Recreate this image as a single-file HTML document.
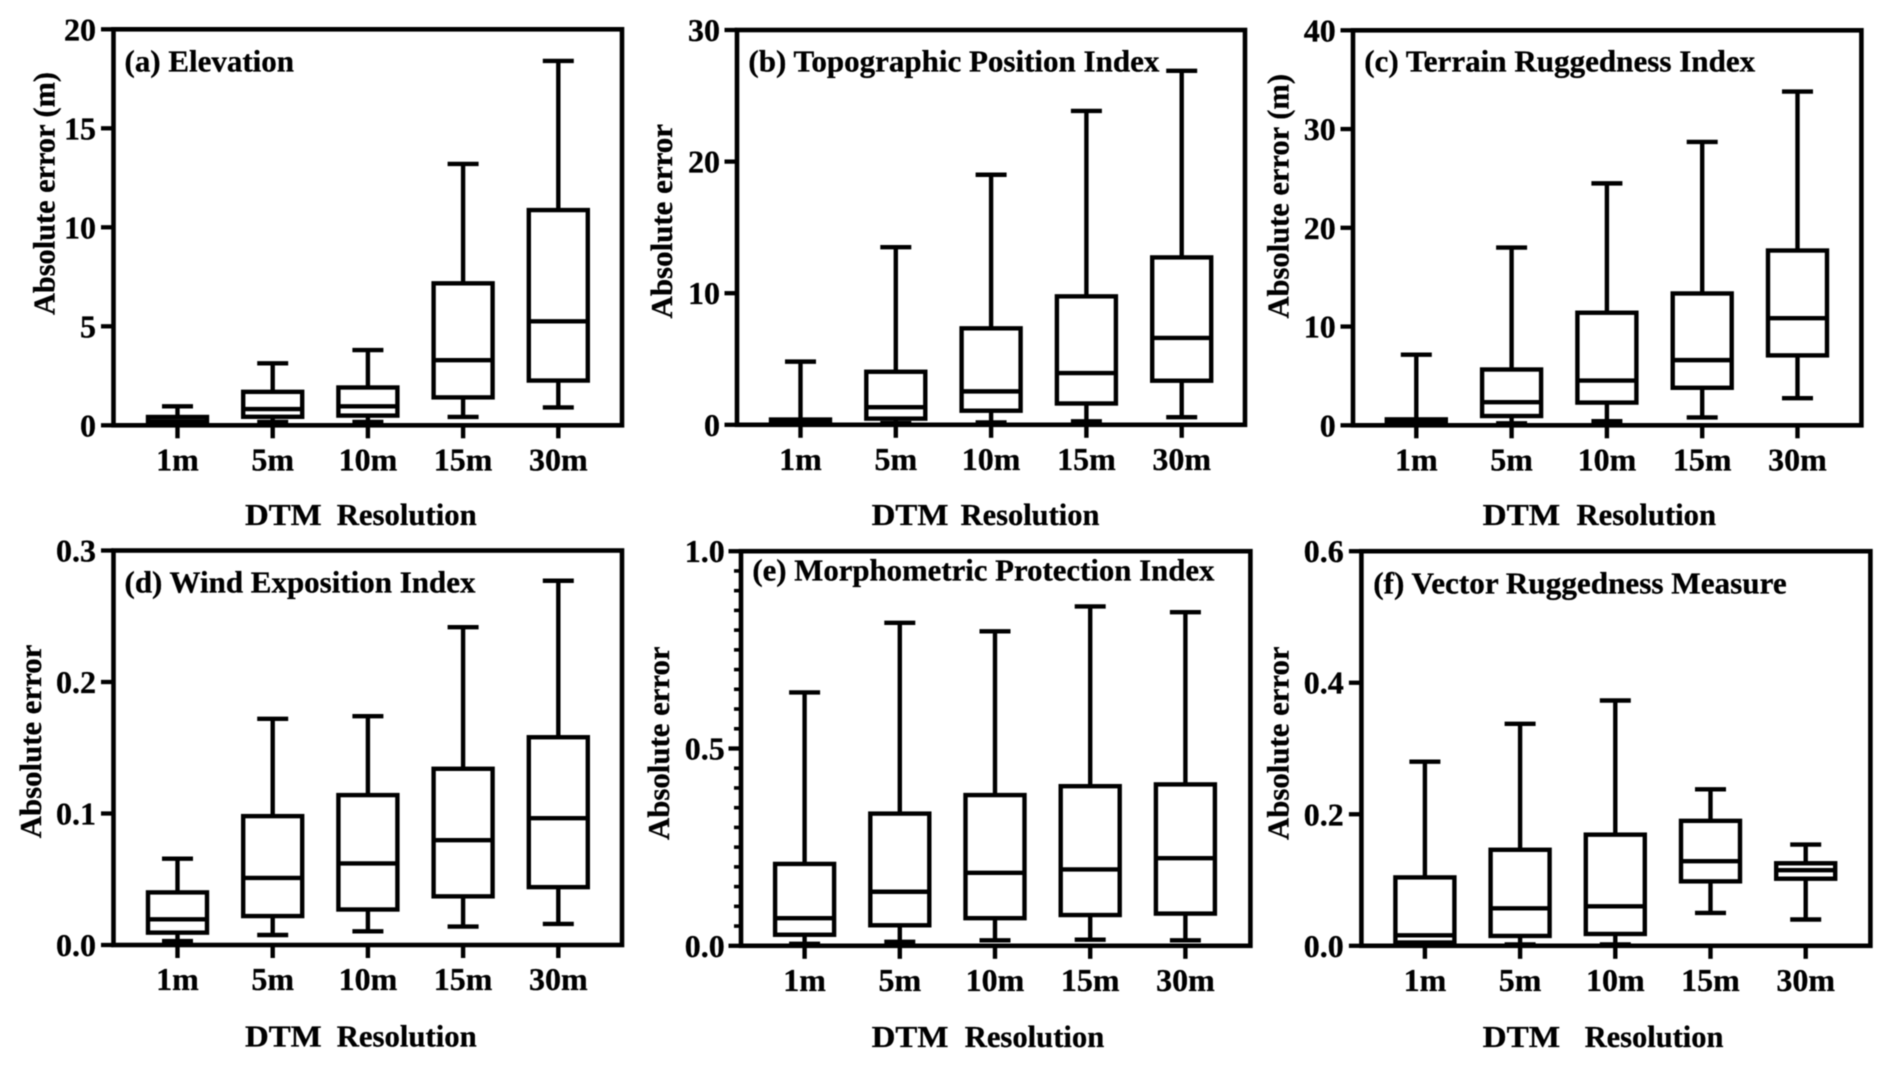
<!DOCTYPE html>
<html lang="en">
<head>
<meta charset="utf-8">
<title>Absolute error by DTM resolution</title>
<style>
html,body{margin:0;padding:0;background:#fff;width:1892px;height:1067px;overflow:hidden}
svg{display:block;filter:blur(0.4px)}
text{font-family:"Liberation Serif",serif;font-weight:bold;font-size:31px;fill:#000;stroke:#000;stroke-width:.3px}
</style>
</head>
<body>
<svg id="figure" xmlns="http://www.w3.org/2000/svg" width="1892" height="1067" viewBox="0 0 1892 1067">
  <rect width="1892" height="1067" fill="#fff"/>

  <g id="panel-a">
    <text x="124.5" y="71.3" textLength="169.5" lengthAdjust="spacingAndGlyphs">(a) Elevation</text>
    <text transform="translate(54.3,315) rotate(-90)" textLength="243" lengthAdjust="spacingAndGlyphs">Absolute error (m)</text>
    <text x="245" y="525" textLength="76.7" lengthAdjust="spacingAndGlyphs">DTM</text>
    <text x="336.7" y="525" textLength="140" lengthAdjust="spacingAndGlyphs">Resolution</text>
  </g>
  <g id="panel-b">
    <text x="748.4" y="71.6" textLength="411" lengthAdjust="spacingAndGlyphs">(b) Topographic Position Index</text>
    <text transform="translate(672,318.5) rotate(-90)" textLength="194.5" lengthAdjust="spacingAndGlyphs">Absolute error</text>
    <text x="871.6" y="525" textLength="76.8" lengthAdjust="spacingAndGlyphs">DTM</text>
    <text x="960.6" y="525" textLength="138.8" lengthAdjust="spacingAndGlyphs">Resolution</text>
  </g>
  <g id="panel-c">
    <text x="1364.2" y="71.6" textLength="391" lengthAdjust="spacingAndGlyphs">(c) Terrain Ruggedness Index</text>
    <text transform="translate(1288.7,318.5) rotate(-90)" textLength="244.5" lengthAdjust="spacingAndGlyphs">Absolute error (m)</text>
    <text x="1482.6" y="525" textLength="77.6" lengthAdjust="spacingAndGlyphs">DTM</text>
    <text x="1576.5" y="525" textLength="139.5" lengthAdjust="spacingAndGlyphs">Resolution</text>
  </g>
  <g id="panel-d">
    <text x="124.5" y="592.7" textLength="351" lengthAdjust="spacingAndGlyphs">(d) Wind Exposition Index</text>
    <text transform="translate(40.8,838.2) rotate(-90)" textLength="193.5" lengthAdjust="spacingAndGlyphs">Absolute error</text>
    <text x="245" y="1046.4" textLength="76.7" lengthAdjust="spacingAndGlyphs">DTM</text>
    <text x="336.7" y="1046.4" textLength="140" lengthAdjust="spacingAndGlyphs">Resolution</text>
  </g>
  <g id="panel-e">
    <text x="752.4" y="580.7" textLength="462" lengthAdjust="spacingAndGlyphs">(e) Morphometric Protection Index</text>
    <text transform="translate(668.8,840) rotate(-90)" textLength="193.6" lengthAdjust="spacingAndGlyphs">Absolute error</text>
    <text x="871.6" y="1047" textLength="76.8" lengthAdjust="spacingAndGlyphs">DTM</text>
    <text x="964.7" y="1047" textLength="139.6" lengthAdjust="spacingAndGlyphs">Resolution</text>
  </g>
  <g id="panel-f">
    <text x="1373.2" y="593.4" textLength="413.5" lengthAdjust="spacingAndGlyphs">(f) Vector Ruggedness Measure</text>
    <text transform="translate(1288.7,840) rotate(-90)" textLength="193.6" lengthAdjust="spacingAndGlyphs">Absolute error</text>
    <text x="1482.6" y="1047" textLength="77.6" lengthAdjust="spacingAndGlyphs">DTM</text>
    <text x="1584.7" y="1047" textLength="138.7" lengthAdjust="spacingAndGlyphs">Resolution</text>
  </g>
</svg>

<script>
// Shared category labels
const categories = ['1m', '5m', '10m', '15m', '30m'];

// Panel (a) Elevation
const aTicks = ['0', '5', '10', '15', '20'];
const aLow = [0.03, 0.17, 0.17, 0.42, 0.9];
const aQ1 = [0.1, 0.43, 0.49, 1.41, 2.26];
const aMedian = [0.2, 0.82, 0.96, 3.29, 5.25];
const aQ3 = [0.42, 1.69, 1.91, 7.17, 10.87];
const aHigh = [0.96, 3.13, 3.8, 13.2, 18.4];

// Panel (b) Topographic Position Index
const bTicks = ['0', '10', '20', '30'];
const bLow = [0.02, 0.13, 0.18, 0.26, 0.58];
const bQ1 = [0.08, 0.47, 1.07, 1.62, 3.35];
const bMedian = [0.18, 1.34, 2.54, 3.93, 6.6];
const bQ3 = [0.4, 4.03, 7.33, 9.76, 12.72];
const bHigh = [4.8, 13.5, 19, 23.85, 26.9];

// Panel (c) Terrain Ruggedness Index
const cTicks = ['0', '10', '20', '30', '40'];
const cLow = [0.03, 0.2, 0.42, 0.8, 2.75];
const cQ1 = [0.1, 0.94, 2.3, 3.8, 7.08];
const cMedian = [0.25, 2.34, 4.53, 6.6, 10.85];
const cQ3 = [0.6, 5.65, 11.4, 13.35, 17.7];
const cHigh = [7.15, 18, 24.5, 28.7, 33.8];

// Panel (d) Wind Exposition Index
const dTicks = ['0.0', '0.1', '0.2', '0.3'];
const dLow = [0.003, 0.0076, 0.0104, 0.014, 0.016];
const dQ1 = [0.0094, 0.022, 0.027, 0.037, 0.044];
const dMedian = [0.0195, 0.051, 0.062, 0.0797, 0.0964];
const dQ3 = [0.04, 0.098, 0.114, 0.134, 0.158];
const dHigh = [0.0656, 0.172, 0.174, 0.2417, 0.277];

// Panel (e) Morphometric Protection Index
const eTicks = ['0.0', '0.5', '1.0'];
const eLow = [0.005, 0.01, 0.014, 0.0156, 0.014];
const eQ1 = [0.028, 0.052, 0.07, 0.078, 0.0816];
const eMedian = [0.07, 0.137, 0.185, 0.1936, 0.222];
const eQ3 = [0.2075, 0.335, 0.382, 0.4045, 0.409];
const eHigh = [0.642, 0.8186, 0.797, 0.86, 0.8455];

// Panel (f) Vector Ruggedness Measure
const fTicks = ['0.0', '0.2', '0.4', '0.6'];
const fLow = [0.001, 0.002, 0.002, 0.05, 0.04];
const fQ1 = [0.005, 0.015, 0.018, 0.098, 0.102];
const fMedian = [0.016, 0.057, 0.06, 0.1286, 0.115];
const fQ3 = [0.104, 0.146, 0.169, 0.19, 0.1255];
const fHigh = [0.28, 0.3375, 0.373, 0.238, 0.154];

const SVG_NS = 'http://www.w3.org/2000/svg';

function line(parent, x1, y1, x2, y2, width) {
  const l = document.createElementNS(SVG_NS, 'line');
  l.setAttribute('x1', x1);
  l.setAttribute('y1', y1);
  l.setAttribute('x2', x2);
  l.setAttribute('y2', y2);
  l.setAttribute('stroke', '#000');
  l.setAttribute('stroke-width', width);
  parent.appendChild(l);
  return l;
}

function label(parent, x, y, anchor, content) {
  const t = document.createElementNS(SVG_NS, 'text');
  t.setAttribute('x', x);
  t.setAttribute('y', y);
  t.setAttribute('text-anchor', anchor);
  t.setAttribute('font-size', '32');
  t.style.fontSize = '32px';
  t.textContent = content;
  parent.appendChild(t);
  return t;
}

function drawPanel(id, geom, ticks, low, q1, median, q3, high, minorPerMajor) {
  const root = document.getElementById('panel-' + id);
  const yMax = parseFloat(ticks[ticks.length - 1]);
  const yScale = v => geom.bottom - (v / yMax) * (geom.bottom - geom.top);
  const xScale = i => geom.firstX + i * geom.stepX;
  const LW = 4.4;
  const BOX_HALF = 29.5;
  const CAP_HALF = 15.5;

  categories.forEach((cat, i) => {
    const x = xScale(i);
    const g = document.createElementNS(SVG_NS, 'g');
    
    
    root.appendChild(g);

    const upper = line(g, x, yScale(q3[i]), x, yScale(high[i]), LW);
    
    

    const lower = line(g, x, yScale(q1[i]), x, yScale(low[i]), LW);
    
    

    const capHigh = line(g, x - CAP_HALF, yScale(high[i]), x + CAP_HALF, yScale(high[i]), LW);
    
    

    const capLow = line(g, x - CAP_HALF, yScale(low[i]), x + CAP_HALF, yScale(low[i]), LW);
    
    

    const box = document.createElementNS(SVG_NS, 'rect');
    box.setAttribute('x', x - BOX_HALF);
    box.setAttribute('y', yScale(q3[i]));
    box.setAttribute('width', BOX_HALF * 2);
    box.setAttribute('height', yScale(q1[i]) - yScale(q3[i]));
    box.setAttribute('fill', '#fff');
    box.setAttribute('stroke', '#000');
    box.setAttribute('stroke-width', LW);
    
    
    g.appendChild(box);

    const med = line(g, x - BOX_HALF, yScale(median[i]), x + BOX_HALF, yScale(median[i]), LW);
    
    

    const xTick = line(root, x, geom.bottom, x, geom.bottom + 13, LW);
    
    

    const xLabel = label(root, x, geom.bottom + 45, 'middle', cat);
    
    
  });

  const frame = document.createElementNS(SVG_NS, 'rect');
  frame.setAttribute('x', geom.left);
  frame.setAttribute('y', geom.top);
  frame.setAttribute('width', geom.right - geom.left);
  frame.setAttribute('height', geom.bottom - geom.top);
  frame.setAttribute('fill', 'none');
  frame.setAttribute('stroke', '#000');
  frame.setAttribute('stroke-width', 4.6);
  
  
  root.appendChild(frame);

  ticks.forEach(tick => {
    const v = parseFloat(tick);
    const y = yScale(v);
    const yTick = line(root, geom.left - 12.5, y, geom.left, y, 4.3);
    
    

    const yLabel = label(root, geom.tickRight, y + 11, 'end', tick);
    
    
  });

  if (minorPerMajor > 1) {
    const majorStep = parseFloat(ticks[1]) - parseFloat(ticks[0]);
    const minorCount = Math.round(yMax / majorStep) * minorPerMajor;
    for (let i = 1; i < minorCount; i++) {
      if (i % minorPerMajor === 0) continue;
      const y = yScale(i * majorStep / minorPerMajor);
      const minor = line(root, geom.left - 7, y, geom.left, y, 3.6);
      
      
    }
  }
}

drawPanel('a', {left: 113.5, right: 622, top: 29.3, bottom: 425.3, firstX: 177.5, stepX: 95.2, tickRight: 96}, aTicks, aLow, aQ1, aMedian, aQ3, aHigh, 1);
drawPanel('b', {left: 737, right: 1245, top: 30, bottom: 424.8, firstX: 800.5, stepX: 95.3, tickRight: 720}, bTicks, bLow, bQ1, bMedian, bQ3, bHigh, 1);
drawPanel('c', {left: 1353, right: 1861.4, top: 30.3, bottom: 425.3, firstX: 1416.3, stepX: 95.3, tickRight: 1335.7}, cTicks, cLow, cQ1, cMedian, cQ3, cHigh, 1);
drawPanel('d', {left: 113.5, right: 622, top: 550.5, bottom: 945, firstX: 177.5, stepX: 95.2, tickRight: 96}, dTicks, dLow, dQ1, dMedian, dQ3, dHigh, 1);
drawPanel('e', {left: 741, right: 1250.4, top: 551.2, bottom: 945.8, firstX: 804.6, stepX: 95.2, tickRight: 724.7}, eTicks, eLow, eQ1, eMedian, eQ3, eHigh, 10);
drawPanel('f', {left: 1361.4, right: 1870.4, top: 551.2, bottom: 945.8, firstX: 1424.9, stepX: 95.2, tickRight: 1343.8}, fTicks, fLow, fQ1, fMedian, fQ3, fHigh, 1);
</script>
</body>
</html>
